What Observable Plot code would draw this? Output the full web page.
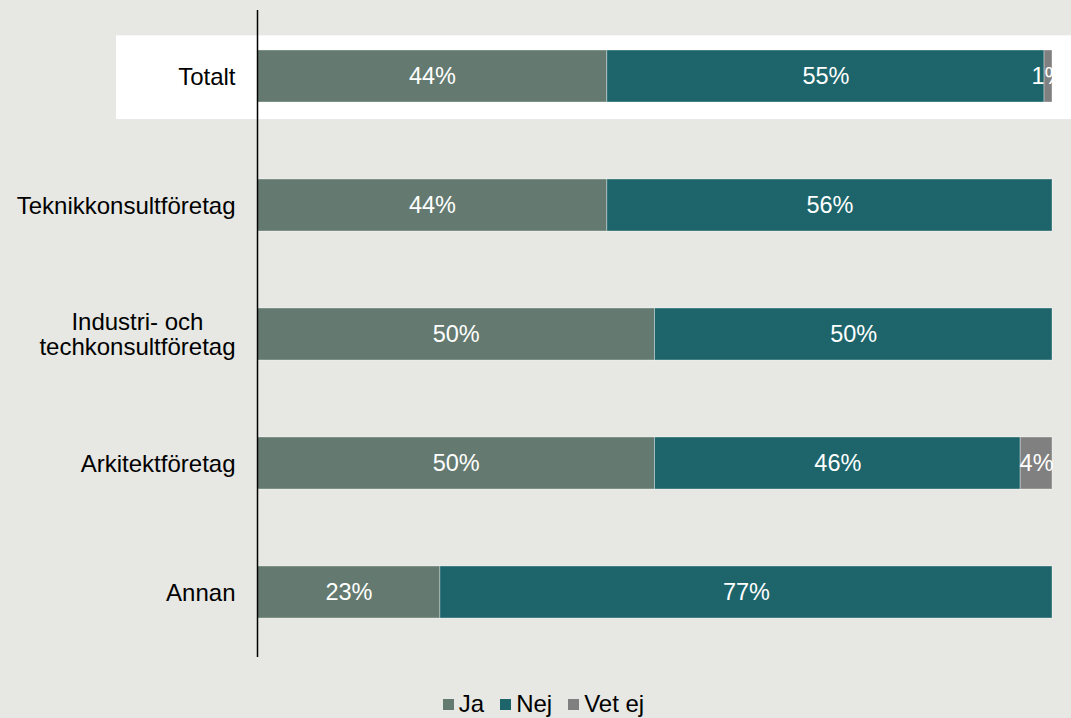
<!DOCTYPE html>
<html>
<head>
<meta charset="utf-8">
<script src="https://cdn.jsdelivr.net/npm/d3@7"></script>
<script src="https://cdn.jsdelivr.net/npm/@observablehq/plot@0.6"></script>
<style>
  html, body { margin: 0; padding: 0; background: #e7e7e3; }
  body { width: 1071px; height: 718px; overflow: hidden; font-family: "Liberation Sans", Arial, sans-serif; }
  #legend { height: 28px; line-height: 28px; font-size: 24px; color: #000; display: flex; justify-content: center; padding-left: 16px; gap: 16px; }
  .item { display: flex; align-items: center; }
  .sw { width: 11px; height: 11px; display: inline-block; margin-right: 5px; }
</style>
</head>
<body>
<div id="chart"></div>
<div id="legend"></div>
<script>
const categories = ["Totalt", "Teknikkonsultföretag", "Industri- och\ntechkonsultföretag", "Arkitektföretag", "Annan"];
const seriesNames = ["Ja", "Nej", "Vet ej"];
const ja    = [44, 44, 50, 50, 23];
const nej   = [55, 56, 50, 46, 77];
const vetEj = [1, 0, 0, 4, 0];
const colors = ["#647a70", "#1d656b", "#808080"];
const highlighted = "Totalt";

const rows = [];
categories.forEach((c, i) => {
  [ja[i], nej[i], vetEj[i]].forEach((v, k) => {
    if (v > 0) rows.push({cat: c, series: seriesNames[k], value: v});
  });
});

const W = 1071;
const marginLeft = 257;

const plot = Plot.plot({
  width: W,
  height: 690,
  marginLeft: marginLeft,
  marginRight: 19,
  marginTop: 10,
  marginBottom: 33,
  style: {background: "transparent", fontFamily: "'Liberation Sans', Arial, sans-serif", fontSize: "24px", color: "#000"},
  x: {domain: [0, 100], axis: null},
  y: {domain: categories, paddingInner: 0.6, paddingOuter: 0.3, label: null, tickSize: 0, tickPadding: 22},
  color: {domain: seriesNames, range: colors},
  marks: [
    Plot.barX(rows, Plot.stackX({x: "value", y: "cat", fill: "series", order: seriesNames, stroke: "#ffffff", strokeOpacity: 0.35, strokeWidth: 1})),
    Plot.text(rows, Plot.stackX({x: "value", y: "cat", order: seriesNames, z: "series", text: d => d.value + "%", fill: "white", fontSize: 23.5})),
    Plot.ruleX([0], {stroke: "#000", strokeWidth: 1.5}),
    Plot.axisY({tickSize: 0, tickPadding: 22, fontSize: 24, textAnchor: "end", lineHeight: 1.05})
  ]
});
document.getElementById("chart").appendChild(plot);

// white highlight band behind the "Totalt" row, positioned from the y scale
(function () {
  const ys = plot.scale("y");
  const band = d3.scaleBand(ys.domain, ys.range).paddingInner(ys.paddingInner).paddingOuter(ys.paddingOuter).align(ys.align ?? 0.5);
  const y0 = band(highlighted);
  const bw = band.bandwidth();
  const r = document.createElementNS("http://www.w3.org/2000/svg", "rect");
  r.setAttribute("x", marginLeft - 141);
  r.setAttribute("width", W - (marginLeft - 141));
  r.setAttribute("y", y0 - 13.5);
  r.setAttribute("height", bw + 32);
  r.setAttribute("fill", "#ffffff");
  const first = [...plot.children].find(n => n.tagName.toLowerCase() === "g");
  plot.insertBefore(r, first);
})();

// center multi-line tick label lines on each other (right-aligned as a block)
plot.querySelectorAll("g[aria-label='y-axis tick label'] text").forEach(t => {
  const spans = t.querySelectorAll("tspan");
  if (spans.length > 1) {
    let maxW = 0;
    spans.forEach(s => { maxW = Math.max(maxW, s.getComputedTextLength()); });
    t.setAttribute("text-anchor", "middle");
    spans.forEach(s => { if (s.hasAttribute("x")) s.setAttribute("x", +s.getAttribute("x") - maxW / 2); });
    const x = +(t.getAttribute("x") || 0);
    if (!spans[0].hasAttribute("x")) t.setAttribute("x", x - maxW / 2);
  }
});

const legend = document.getElementById("legend");
seriesNames.forEach((s, i) => {
  const it = document.createElement("span");
  it.className = "item";
  const sw = document.createElement("span");
  sw.className = "sw";
  sw.style.background = colors[i];
  it.appendChild(sw);
  it.appendChild(document.createTextNode(s));
  legend.appendChild(it);
});
</script>
</body>
</html>
